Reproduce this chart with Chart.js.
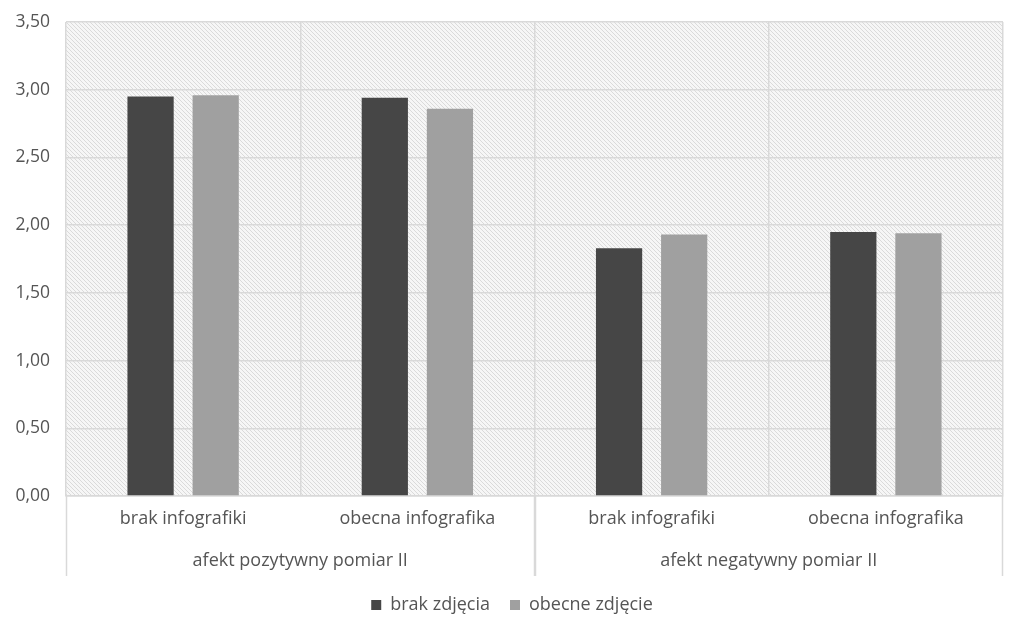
<!DOCTYPE html>
<html>
<head>
<meta charset="utf-8">
<script src="https://cdn.jsdelivr.net/npm/chart.js@4"></script>
<style>
  html, body { margin: 0; padding: 0; background: #fff; }
  #wrap { width: 1024px; height: 632px; }
</style>
</head>
<body>
<div id="wrap"><canvas id="chart" width="1024" height="632"></canvas></div>
<script>
// data
const categories = ['brak infografiki', 'obecna infografika', 'brak infografiki', 'obecna infografika'];
const groups = ['afekt pozytywny pomiar II', 'afekt negatywny pomiar II'];
const seriesNames = ['brak zdjęcia', 'obecne zdjęcie'];
const brakZdjecia = [2.95, 2.94, 1.83, 1.95];
const obecneZdjecie = [2.96, 2.86, 1.93, 1.94];
const yMax = 3.5;
const yStep = 0.5;

const textColor = '#555555';
const gridColor = '#d9d9d9';
const fontFamily = '"Open Sans", Lato, sans-serif';
const fontSize = 18;

function makeHatch() {
    const c = document.createElement('canvas');
    c.width = 4; c.height = 4;
    const g = c.getContext('2d');
    g.fillStyle = '#f6f6f6';
    g.fillRect(0, 0, 4, 4);
    g.strokeStyle = '#dadada';
    g.lineWidth = 1;
    g.beginPath();
    g.moveTo(-1, -1); g.lineTo(5, 5);
    g.moveTo(-1, 3); g.lineTo(1, 5);
    g.moveTo(3, -1); g.lineTo(5, 1);
    g.stroke();
    return g.createPattern(c, 'repeat');
}

const hatchBackground = {
    id: 'hatchBackground',
    beforeDraw(chart) {
        const { ctx, chartArea: a } = chart;
        ctx.save();
        ctx.fillStyle = makeHatch();
        ctx.fillRect(a.left, a.top, a.right - a.left, a.bottom - a.top);
        ctx.restore();
    }
};

const groupLabels = {
    id: 'groupLabels',
    afterDraw(chart) {
        const { ctx, chartArea: a } = chart;
        const x = chart.scales.x;
        const half = (x.getPixelForValue(1) - x.getPixelForValue(0)) / 2;
        ctx.save();
        ctx.strokeStyle = gridColor;
        ctx.lineWidth = 1.5;
        ctx.fillStyle = textColor;
        ctx.font = fontSize + 'px ' + fontFamily;
        ctx.textAlign = 'center';
        ctx.textBaseline = 'middle';
        groups.forEach((name, g) => {
            const left = x.getPixelForValue(g * 2) - half;
            const right = x.getPixelForValue(g * 2 + 1) + half;
            ctx.fillText(name, (left + right) / 2, a.bottom + 65);
            ctx.beginPath();
            ctx.moveTo(Math.round(left) + 0.5, a.bottom);
            ctx.lineTo(Math.round(left) + 0.5, a.bottom + 80);
            ctx.moveTo(Math.round(right) - 0.5, a.bottom);
            ctx.lineTo(Math.round(right) - 0.5, a.bottom + 80);
            ctx.stroke();
        });
        ctx.restore();
    }
};

const myChart = new Chart(document.getElementById('chart'), {
    type: 'bar',
    data: {
        labels: categories,
        datasets: [{
            label: seriesNames[0],
            data: brakZdjecia,
            backgroundColor: '#464646'
        }, {
            label: seriesNames[1],
            data: obecneZdjecie,
            backgroundColor: '#a0a0a0'
        }]
    },
    options: {
        responsive: false,
        animation: false,
        datasets: {
            bar: { categoryPercentage: 0.556, barPercentage: 0.71 }
        },
        layout: { padding: { top: 22, right: 0, bottom: 8, left: 0 } },
        scales: {
            x: {
                grid: { offset: true, color: gridColor, lineWidth: 1.5, drawTicks: false },
                border: { color: gridColor, width: 1.5 },
                ticks: { color: textColor, font: { family: fontFamily, size: fontSize }, padding: 12 },
                afterFit(scale) { scale.height = 80; }
            },
            y: {
                min: 0,
                max: yMax,
                grid: { color: gridColor, lineWidth: 1.5, drawTicks: false },
                border: { display: false },
                ticks: {
                    stepSize: yStep,
                    color: textColor,
                    padding: 16,
                    font: { family: fontFamily, size: 17.5 },
                    callback: v => v.toFixed(2).replace('.', ',')
                },
                afterFit(scale) {
                    scale.width = 66;
                    scale.paddingTop = 0;
                    scale.paddingBottom = 0;
                }
            },
            // empty spacer on the right so the legend centres on the full width
            yRight: {
                position: 'right',
                min: 0,
                max: yMax,
                grid: { display: false },
                border: { display: false },
                ticks: { display: false },
                afterFit(scale) { scale.width = 21; }
            }
        },
        plugins: {
            legend: {
                position: 'bottom',
                labels: {
                    color: textColor,
                    font: { family: fontFamily, size: fontSize },
                    boxWidth: 10,
                    boxHeight: 10,
                    padding: 20
                }
            },
            tooltip: { enabled: false }
        }
    },
    plugins: [hatchBackground, groupLabels]
});
</script>
</body>
</html>
